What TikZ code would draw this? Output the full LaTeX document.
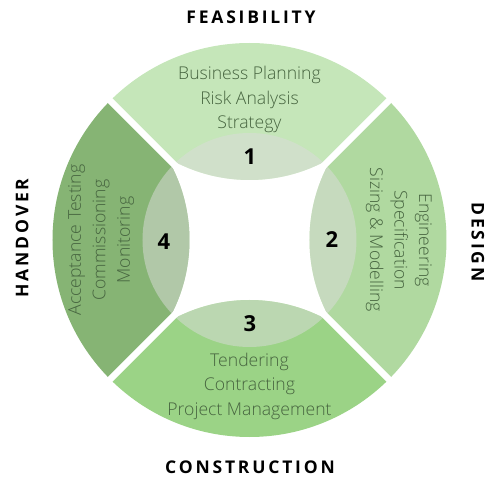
\documentclass[tikz,border=0pt]{standalone}
\usepackage{fontspec}
\setmainfont{Open Sans}
\newfontfamily\lightfont{Open Sans Light}
\newfontfamily\headfont[LetterSpace=16]{Open Sans}

\definecolor{feasgreen}{HTML}{C5E6B9}
\definecolor{designgreen}{HTML}{B0D9A0}
\definecolor{constgreen}{HTML}{9BD386}
\definecolor{handgreen}{HTML}{86B474}
\definecolor{hubgrey}{HTML}{DCDCDC}
\definecolor{itemtext}{HTML}{46643F}

\tikzset{
  items/.style={text=itemtext, align=center, font=\lightfont\fontsize{17.6}{24.5}\selectfont},
  stagenum/.style={font=\bfseries\fontsize{22}{22}\selectfont},
  stagehead/.style={font=\headfont\bfseries\fontsize{17.5}{17.5}\selectfont},
  hub/.style={fill=hubgrey, opacity=0.5},
  gap/.style={white, line width=6.5pt}
}

\begin{document}
\begin{tikzpicture}[x=1pt,y=1pt]
\useasboundingbox (-249.5,-245) rectangle (249.5,240);

% feasibility
\begin{scope}
  \clip (0,0) -- (300,300) -- (-300,300) -- cycle;
  \clip (0,0) circle (197);
  \fill[feasgreen] (0,222) circle (162);
  \clip (0,222) circle (162);
  \fill[hub] (0,0) circle (107);
\end{scope}
% design
\begin{scope}
  \clip (0,0) -- (300,300) -- (300,-300) -- cycle;
  \clip (0,0) circle (197);
  \fill[designgreen] (222,0) circle (162);
  \clip (222,0) circle (162);
  \fill[hub] (0,0) circle (107);
\end{scope}
% construction
\begin{scope}
  \clip (0,0) -- (300,-300) -- (-300,-300) -- cycle;
  \clip (0,0) circle (197);
  \fill[constgreen] (0,-222) circle (162);
  \clip (0,-222) circle (162);
  \fill[hub] (0,0) circle (107);
\end{scope}
% handover
\begin{scope}
  \clip (0,0) -- (-300,300) -- (-300,-300) -- cycle;
  \clip (0,0) circle (197);
  \fill[handgreen] (-222,0) circle (162);
  \clip (-222,0) circle (162);
  \fill[hub] (0,0) circle (107);
\end{scope}

% white cuts between stages
\draw[gap] (-150,-150) -- (150,150);
\draw[gap] (-150,150) -- (150,-150);

\node[items] (feasitems) at (0,140.5) {Business Planning\\Risk Analysis\\Strategy};
\node[items, rotate=-90] (designitems) at (149.5,0) {Engineering\\Specification\\Sizing \& Modelling};
\node[items] (constitems) at (0,-146) {Tendering\\Contracting\\Project Management};
\node[items, rotate=90] (handitems) at (-148.5,0) {Acceptance Testing\\Commissioning\\Monitoring};

\node[stagenum] (num1) at (0.5,83) {1};
\node[stagenum] (num2) at (82.5,0) {2};
\node[stagenum] (num3) at (0.5,-84) {3};
\node[stagenum] (num4) at (-85.5,-2) {4};

\node[stagehead] (feas) at (1.5,223) {FEASIBILITY};
\node[stagehead, rotate=-90] (design) at (228.5,-2) {DESIGN};
\node[stagehead] (const) at (0.5,-227) {CONSTRUCTION};
\node[stagehead, rotate=90] (hand) at (-227.5,2) {HANDOVER};
\end{tikzpicture}
\end{document}
